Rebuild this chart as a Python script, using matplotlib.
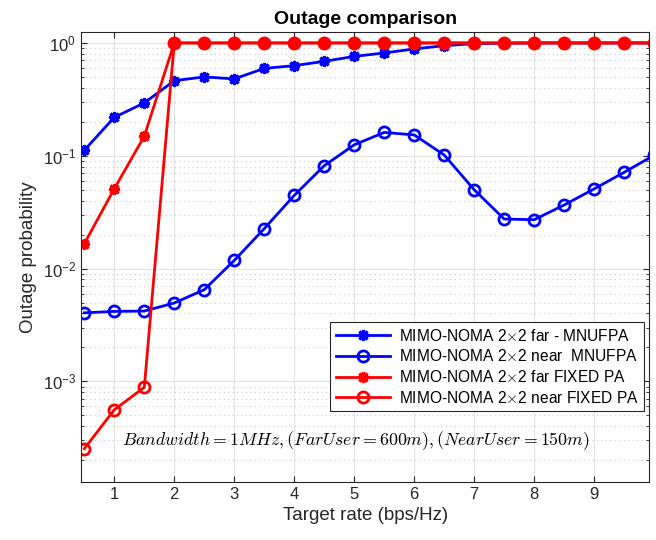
import matplotlib
matplotlib.use('Agg')
import matplotlib.pyplot as plt
from matplotlib.ticker import LogLocator, NullFormatter

plt.rcParams['font.family'] = ['Liberation Sans', 'DejaVu Sans']
plt.rcParams['mathtext.fontset'] = 'cm'

# taxa alvo (bps/Hz)
rate = [0.5, 1, 1.5, 2, 2.5, 3, 3.5, 4, 4.5, 5, 5.5, 6, 6.5, 7, 7.5, 8, 8.5, 9, 9.5, 10]

far_mnufpa = [0.112, 0.219, 0.294, 0.463, 0.50, 0.48, 0.595, 0.629, 0.687, 0.76,
              0.815, 0.885, 0.946, 0.985, 0.995, 1.0, 1.0, 1.0, 1.0, 1.0]
near_mnufpa = [4.05e-3, 4.17e-3, 4.2e-3, 4.95e-3, 6.5e-3, 0.0118, 0.0226, 0.0445, 0.0816, 0.125,
               0.161, 0.153, 0.1016, 0.050, 0.0275, 0.0271, 0.0366, 0.0508, 0.0713, 0.101]
far_fixed = [0.0166, 0.051, 0.149, 1, 1, 1, 1, 1, 1, 1,
             1, 1, 1, 1, 1, 1, 1, 1, 1, 1]
near_fixed = [2.53e-4, 5.6e-4, 8.85e-4, 1, 1, 1, 1, 1, 1, 1,
              1, 1, 1, 1, 1, 1, 1, 1, 1, 1]

labels = ['MIMO-NOMA 2$\\times$2 far - MNUFPA',
          'MIMO-NOMA 2$\\times$2 near  MNUFPA',
          'MIMO-NOMA 2$\\times$2 far FIXED PA',
          'MIMO-NOMA 2$\\times$2 near FIXED PA']

fig = plt.figure(figsize=(6.56, 5.4), dpi=100)
ax = fig.add_axes([0.1235, 0.108, 0.8663, 0.8327])

star = (8, 2, 0)
ax.semilogy(rate, far_mnufpa, color='blue', lw=2, marker=star, ms=8, mew=2.2, label=labels[0])
ax.semilogy(rate, near_mnufpa, color='blue', lw=2, marker='o', ms=8, mew=2, mfc='none', label=labels[1])
ax.semilogy(rate, far_fixed, color='red', lw=2, marker=star, ms=8, mew=2.2, label=labels[2])
ax.semilogy(rate, near_fixed, color='red', lw=2, marker='o', ms=8, mew=2, mfc='none', label=labels[3])

ax.set_xlim(0.445, 9.92)
ax.set_ylim(1.29e-4, 1.25)
ax.set_xticks(range(1, 10))
ax.yaxis.set_major_locator(LogLocator(base=10, numticks=10))
ax.yaxis.set_minor_locator(LogLocator(base=10, subs=range(2, 10), numticks=10))
ax.yaxis.set_minor_formatter(NullFormatter())

ax.grid(True, which='major', color='#e3e3e3', lw=0.8, ls='-')
ax.grid(True, which='minor', axis='y', color='#c8c8c8', lw=0.8, ls=(0, (1, 3)))
ax.set_axisbelow(True)
ax.tick_params(which='both', direction='in', top=True, right=True, labelsize=12, colors='#262626')
ax.tick_params(which='major', length=4)
ax.tick_params(which='minor', length=2)
for s in ax.spines.values():
    s.set_color('#262626')
    s.set_linewidth(0.8)

ax.set_title('Outage comparison', fontsize=14, fontweight='bold', pad=6)
ax.set_xlabel('Target rate (bps/Hz)', fontsize=13.5, color='#262626')
ax.set_ylabel('Outage probability', fontsize=13.5, color='#262626')

ax.text(1.13, 3.0e-4, '$Bandwidth=1MHz,(FarUser=600m),(NearUser=150m)$',
        fontsize=12.8, va='center', ha='left')

leg = ax.legend(loc='lower right', bbox_to_anchor=(0.997, 0.15), fontsize=11.2, handlelength=3.5,
                fancybox=False, framealpha=1, edgecolor='#262626', borderpad=0.35,
                labelspacing=0.3, borderaxespad=0.2, handletextpad=0.6)
leg.get_frame().set_linewidth(0.8)

plt.savefig('out.png', dpi=100)
